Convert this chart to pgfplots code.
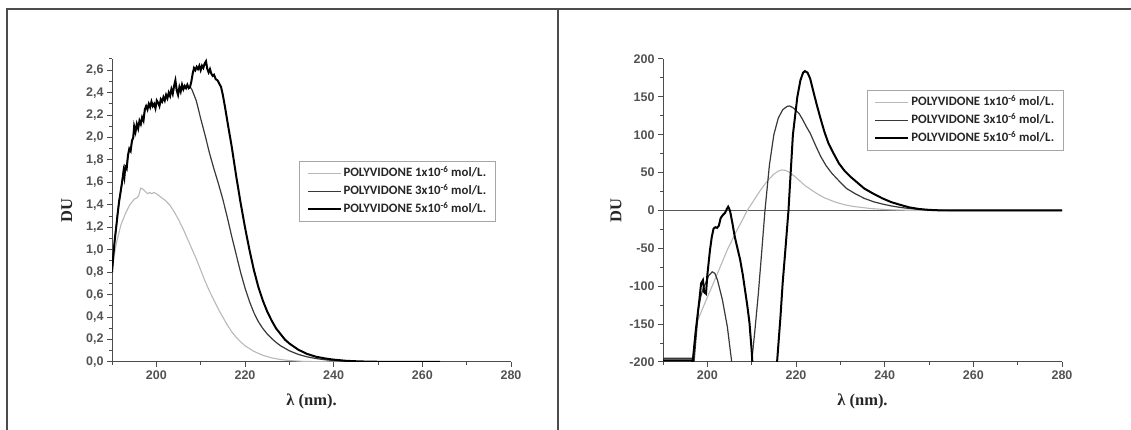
\documentclass[border=0pt]{standalone}
\usepackage{pgfplots}
\pgfplotsset{compat=1.18}
\usepackage{fontspec}
\setmainfont{Liberation Serif}
\newfontfamily\tickfont{Liberation Sans}
\newfontfamily\legfont{Carlito}
\definecolor{axgray}{gray}{0.3}
\definecolor{cA}{gray}{0.72}
\definecolor{cB}{gray}{0.22}
\definecolor{cC}{gray}{0.0}
\pgfplotsset{
  myax/.style={
    scale only axis, width=399pt, height=303pt, anchor=south west,
    axis x line*=bottom, axis y line*=left,
    axis line style={axgray, line width=1pt},
    every tick/.style={axgray, line width=1pt},
    tick align=outside,
    major tick length=5pt, minor tick length=3pt,
    xmin=190, xmax=280,
    xtick={200,220,240,260,280}, minor xtick={190,210,230,250,270},
    /pgf/number format/assume math mode=true,
    ticklabel style={font=\tickfont\bfseries\fontsize{12.5}{14}\selectfont, text=black!68},
    xlabel={λ (nm).}, ylabel={DU},
    label style={font=\bfseries\fontsize{16.5}{18}\selectfont, text=black!85},
    xlabel style={at={(axis description cs:0.5,-0.129)}, anchor=center},
    legend cell align=left,
    legend image code/.code={\draw[##1] (0pt,0pt) -- (33pt,0pt);},
    legend style={draw=black!35, line width=1pt, fill=white,
      font=\legfont\bfseries\fontsize{12.8}{15}\selectfont, text=black!85,
      inner xsep=7pt, inner ysep=4pt, row sep=2pt,
      nodes={inner sep=2pt, text height=9.5pt, text depth=2.5pt}},
  }
}
\begin{document}
\begin{tikzpicture}
\path[use as bounding box] (0pt,0pt) rectangle (1131pt,430pt);
\draw[line width=2pt, black!70] (7pt,0pt) -- (7pt,421pt) -- (1131pt,421pt);
\draw[line width=2pt, black!70] (558pt,0pt) -- (558pt,421pt);

% ---------------- left panel ----------------
\begin{axis}[myax, at={(112pt,68pt)},
  ymin=0, ymax=2.7,
  ytick={0,0.2,0.4,0.6,0.8,1.0,1.2,1.4,1.6,1.8,2.0,2.2,2.4,2.6},
  minor ytick={0.1,0.3,0.5,0.7,0.9,1.1,1.3,1.5,1.7,1.9,2.1,2.3,2.5,2.7},
  yticklabel style={/pgf/number format/.cd, fixed, fixed zerofill, precision=1, use comma},
  ylabel style={at={(axis description cs:-0.113,0.5)}, anchor=center},
  legend style={at={(axis description cs:0.4687,0.6634)}, anchor=north west},
]
\addplot[cA, line width=1.1pt] coordinates {
(190,0.80) (190.5,0.95) (191,1.06) (191.5,1.14) (192,1.22) (193,1.32) (194,1.40)
(195,1.45) (195.5,1.46) (196,1.48) (196.5,1.55) (197,1.54) (197.5,1.52) (198,1.50)
(198.5,1.51) (199,1.50) (199.5,1.51) (200,1.50) (201,1.47) (202,1.44) (203,1.40)
(204,1.34) (205,1.27) (206,1.19) (207,1.10) (208,1.01) (209,0.92) (210,0.82)
(211,0.72) (212,0.63) (213,0.55) (214,0.47) (215,0.40) (216,0.33) (217,0.27)
(218,0.22) (219,0.18) (220,0.145) (222,0.095) (224,0.06) (226,0.037) (228,0.022)
(230,0.013) (233,0.006) (236,0.003) (240,0.001) (250,0.0) (264,0.0)};
\addlegendentry{POLYVIDONE 1x10\textsuperscript{-6} mol/L.}
\addplot[cB, line width=1.2pt] coordinates {
(190.0,0.80) (190.3,0.95) (190.6,1.08) (191.0,1.22) (191.3,1.33) (191.6,1.43)
(192.0,1.53) (192.3,1.61) (192.6,1.70) (192.8,1.66) (193.0,1.73) (193.3,1.73)
(193.6,1.84) (193.9,1.89) (194.2,1.89) (194.5,1.97) (194.8,2.01) (195.0,2.09)
(195.3,2.06) (195.6,2.12) (195.9,2.09) (196.2,2.14) (196.5,2.13) (196.8,2.18)
(197.1,2.16) (197.4,2.24) (197.7,2.28) (198.0,2.26) (198.3,2.30) (198.6,2.28)
(198.9,2.31) (199.2,2.29) (199.5,2.30) (199.8,2.27) (200.1,2.32) (200.4,2.31)
(200.7,2.29) (201.0,2.33) (201.3,2.32) (201.6,2.35) (201.9,2.34) (202.2,2.37)
(202.5,2.36) (202.8,2.39) (203.1,2.38) (203.4,2.42) (203.7,2.40) (204.0,2.45)
(204.3,2.48) (204.6,2.43) (204.9,2.40) (205.2,2.44) (205.5,2.42) (205.8,2.46)
(206.1,2.44) (206.4,2.46) (206.7,2.45) (207.0,2.46) (207.3,2.45) (207.6,2.45)
(208,2.43) (209,2.33) (210,2.17) (211,2.02) (212,1.86) (213,1.72) (214,1.59)
(215,1.45) (216,1.29) (217,1.12) (218,0.96) (219,0.80) (220,0.66) (221,0.54)
(222,0.44) (223,0.36) (224,0.30) (225,0.25) (226,0.21) (227,0.175) (228,0.145)
(230,0.10) (232,0.068) (234,0.046) (236,0.031) (238,0.02) (240,0.013)
(243,0.006) (246,0.003) (250,0.001) (264,0.0)};
\addlegendentry{POLYVIDONE 3x10\textsuperscript{-6} mol/L.}
\addplot[cC, line width=2pt] coordinates {
(190.0,0.80) (190.3,0.95) (190.6,1.08) (191.0,1.22) (191.3,1.33) (191.6,1.43)
(192.0,1.53) (192.3,1.61) (192.6,1.70) (192.8,1.65) (193.0,1.74) (193.3,1.72)
(193.6,1.84) (193.9,1.90) (194.2,1.88) (194.5,1.97) (194.8,2.00) (195.0,2.10)
(195.3,2.05) (195.6,2.12) (195.9,2.08) (196.2,2.15) (196.5,2.12) (196.8,2.18)
(197.1,2.15) (197.4,2.25) (197.7,2.28) (198.0,2.25) (198.3,2.30) (198.6,2.27)
(198.9,2.32) (199.2,2.28) (199.5,2.30) (199.8,2.26) (200.1,2.33) (200.4,2.31)
(200.7,2.28) (201.0,2.34) (201.3,2.32) (201.6,2.36) (201.9,2.33) (202.2,2.38)
(202.5,2.35) (202.8,2.40) (203.1,2.37) (203.4,2.43) (203.7,2.39) (204.0,2.46)
(204.3,2.51) (204.6,2.42) (204.9,2.38) (205.2,2.45) (205.5,2.41) (205.8,2.47)
(206.1,2.43) (206.4,2.46) (206.7,2.44) (207.0,2.47) (207.3,2.44) (207.6,2.45)
(207.9,2.50) (208.2,2.57) (208.5,2.62) (208.8,2.60) (209.1,2.63) (209.4,2.61)
(209.7,2.64) (210.0,2.60) (210.3,2.64) (210.6,2.62) (210.9,2.66) (211.2,2.68)
(211.5,2.61) (211.8,2.58) (212.1,2.61) (212.4,2.57) (212.7,2.55) (213.0,2.56)
(213.4,2.52) (213.8,2.51) (214.2,2.48) (214.6,2.45) (215.0,2.38) (215.5,2.27)
(216.0,2.15) (217.0,1.92) (218.0,1.66) (219.0,1.42) (220.0,1.20) (221.0,1.00)
(222.0,0.82) (223.0,0.67) (224.0,0.55) (225.0,0.45) (226.0,0.37) (227.0,0.30)
(228.0,0.25) (229.0,0.20) (230.0,0.165) (232.0,0.11) (234.0,0.072) (236.0,0.047)
(238.0,0.032) (240.0,0.021) (243.0,0.010) (246.0,0.005) (250.0,0.002)
(255.0,0.0) (264.0,0.0)};
\addlegendentry{POLYVIDONE 5x10\textsuperscript{-6} mol/L.}
\end{axis}

% ---------------- right panel ----------------
\begin{axis}[myax, at={(663pt,68pt)},
  ymin=-200, ymax=200,
  ytick={-200,-150,-100,-50,0,50,100,150,200},
  minor ytick={-175,-125,-75,-25,25,75,125,175},
  ylabel style={at={(axis description cs:-0.118,0.5)}, anchor=center},
  legend style={at={(axis description cs:0.511,0.898)}, anchor=north west},
]
\addplot[black!65, line width=1.4pt, forget plot] coordinates {(190,0) (280,0)};
\addplot[cA, line width=1.1pt] coordinates {
(196.6,-200) (197.4,-155) (197.7,-147) (199.6,-120) (201.5,-94) (203,-73)
(204.5,-52) (205.5,-40) (206.5,-28) (207.5,-17) (208.3,-8) (209,0) (210,9)
(211,18) (212,27) (213,35) (214,42) (215,48) (216,52) (216.8,53.5) (217.6,53)
(218.5,50.5) (219.5,46) (220.7,40) (222,33) (223.5,27) (224.8,22) (226.5,16.5)
(228.9,11) (231,7.5) (233,5.3) (237,2.5) (241,1) (245,0.3) (250,0) (280,0)};
\addlegendentry{POLYVIDONE 1x10\textsuperscript{-6} mol/L.}
\addplot[cB, line width=1.2pt] coordinates {
(190,-195) (196.6,-195) (197.0,-200) (197.5,-165) (198.0,-130) (198.5,-114)
(199.0,-104) (199.6,-96) (200.3,-86) (201.1,-81) (201.7,-83) (202.3,-92)
(203.4,-118) (204.5,-153) (205.5,-200) (206.5,-260) (208,-300) (209,-260)
(210.0,-200) (210.7,-160) (211.5,-110) (212.3,-52) (213.0,0) (214.0,60)
(215.0,100) (216,122) (217,133) (218,137.5) (218.6,138) (219.5,135) (220.7,128)
(221.5,120) (222.3,111) (223.2,102) (224.4,86) (225.6,71) (226.8,59) (228.1,49)
(229.7,39) (231.4,29) (233.4,22) (235.4,16) (237.5,11.5) (239.5,8.5) (241.5,6)
(243.6,4) (245.6,2.6) (247.7,1.5) (250,0.7) (253,0.2) (256,0) (280,0)};
\addlegendentry{POLYVIDONE 3x10\textsuperscript{-6} mol/L.}
\addplot[cC, line width=2pt] coordinates {
(190,-198) (196.5,-198) (196.7,-200) (197.4,-158) (198.2,-118) (198.6,-96)
(199.0,-92) (199.3,-108) (199.7,-110) (200.0,-85) (200.6,-52) (201.0,-35)
(201.4,-24) (201.8,-22) (202.2,-23) (202.6,-20) (203.0,-10) (203.5,-6)
(204.0,-3) (204.4,2) (204.7,5) (205.1,0) (205.6,-15) (206.2,-35) (206.8,-50)
(207.4,-65) (208.0,-85) (208.5,-105) (209.0,-125) (209.5,-148) (210.0,-185)
(210.3,-215) (211,-300) (213,-400) (215,-300) (215.6,-210) (216.5,-140)
(217.0,-95) (217.6,-52) (218.3,0) (219.3,100) (220.3,150) (221.0,172)
(221.6,182) (222.0,184) (222.6,182) (223.2,174) (224.0,155) (224.8,137)
(225.6,120) (226.4,104) (227.3,89) (228.5,75) (229.7,62) (231,52) (232.2,45)
(233.8,37) (235.4,29) (237.5,22) (239.5,16) (241.5,11) (243.6,7.3) (245.5,4.2)
(247.7,2) (250,0.8) (252,0.3) (255,0) (280,0)};
\addlegendentry{POLYVIDONE 5x10\textsuperscript{-6} mol/L.}
\end{axis}
\end{tikzpicture}
\end{document}
